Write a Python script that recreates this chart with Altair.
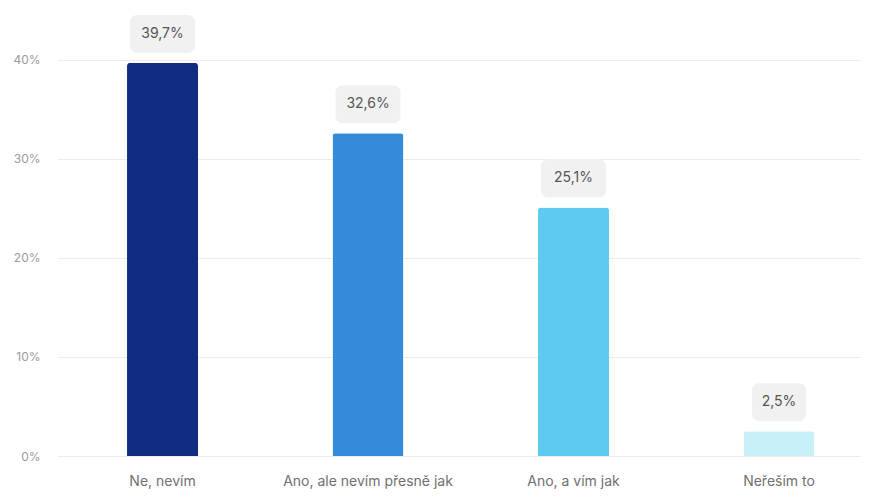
import altair as alt
import pandas as pd

categories = ["Ne, nevím", "Ano, ale nevím přesně jak", "Ano, a vím jak", "Neřeším to"]
values = [39.7, 32.6, 25.1, 2.5]
colors = ["#0f2b82", "#358ad9", "#5ccbef", "#c9f0f8"]
y_ticks = [0, 10, 20, 30, 40]

df = pd.DataFrame({
    "cat": categories,
    "val": [v / 100 for v in values],
    "label": [f"{v:.1f}".replace(".", ",") + "%" for v in values],
    "color": colors,
})

FONT = "Inter"

x_axis = alt.Axis(labelAngle=0, labelColor="#707070", labelFontSize=14, labelFont=FONT,
                  ticks=False, domain=False, labelPadding=18, grid=False)
x_enc = alt.X(
    "cat:N",
    sort=categories,
    title=None,
    scale=alt.Scale(paddingInner=0.6545, paddingOuter=0.2835, align=0.601),
    axis=x_axis,
)
y_axis = alt.Axis(values=[t / 100 for t in y_ticks], format=".0%", labelColor="#9a9a9a",
                  labelFontSize=12, labelFont=FONT, ticks=False, domain=False,
                  labelPadding=17, gridColor="#ececec")
y_enc = alt.Y(
    "val:Q",
    title=None,
    scale=alt.Scale(domain=[0, 0.4525], nice=False),
    axis=y_axis,
)

base = alt.Chart(df)

bars = base.mark_bar(cornerRadiusTopLeft=3, cornerRadiusTopRight=3).encode(
    x=x_enc,
    y=y_enc,
    color=alt.Color("color:N", scale=None),
)

boxes = base.transform_calculate(
    bw="length(datum.label) * 11 + 10"
).mark_bar(cornerRadius=7, color="#f1f1f1", yOffset=-48, y2Offset=-10).encode(
    x=alt.X("cat:N", sort=categories, axis=x_axis, title=None),
    y=alt.Y("val:Q", axis=y_axis, title=None),
    y2="val:Q",
    size=alt.Size("bw:Q", scale=None, legend=None),
)

texts = base.mark_text(font=FONT, fontSize=14, color="#555555", dy=-29, baseline="middle").encode(
    x=alt.X("cat:N", sort=categories, axis=x_axis, title=None),
    y=alt.Y("val:Q", axis=y_axis, title=None),
    text="label:N",
)

chart = alt.layer(bars, boxes, texts).properties(
    width=804,
    height=448,
    autosize=alt.AutoSizeParams(type="none"),
    padding={"left": 49, "top": 0, "right": 0, "bottom": 33},
    view=alt.ViewBackground(stroke="transparent", strokeWidth=0),
).configure_view(stroke="transparent", strokeWidth=0).configure(background="white")

chart.save("out.html", embed_options={"renderer": "svg", "actions": False})
